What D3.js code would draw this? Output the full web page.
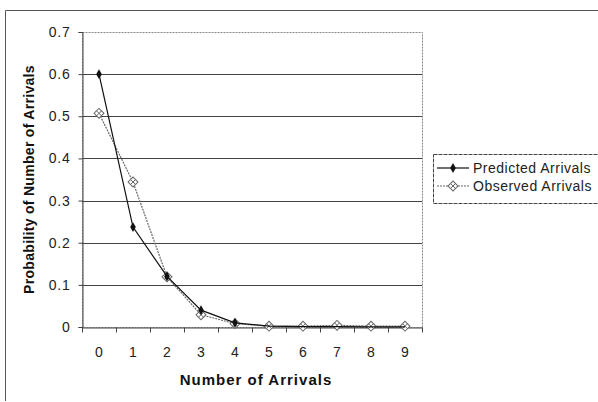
<!DOCTYPE html>
<html>
<head>
<meta charset="utf-8">
<script src="https://cdn.jsdelivr.net/npm/d3@7/dist/d3.min.js"></script>
<style>
  html, body { margin: 0; padding: 0; background: #fff; }
  svg { display: block; font-family: "Liberation Sans", Arial, sans-serif; }
</style>
</head>
<body>
<svg id="chart" width="598" height="402"></svg>
<script>
// Arrivals per interval and the two probability series
const arrivals = [0, 1, 2, 3, 4, 5, 6, 7, 8, 9];
const predicted = [0.6, 0.237, 0.12, 0.04, 0.01, 0.002, 0.001, 0.001, 0.0005, 0.0005];
const observed = [0.507, 0.344, 0.119, 0.029, 0.008, 0.002, 0.002, 0.004, 0.002, 0.002];
const yTicks = [0, 0.1, 0.2, 0.3, 0.4, 0.5, 0.6, 0.7];
const seriesNames = ["Predicted Arrivals", "Observed Arrivals"];

const svg = d3.select("#chart");
const plot = { left: 82, right: 422, top: 32, bottom: 327 };
const font = "Liberation Sans, Arial, sans-serif";

const x = d3.scaleBand().domain(arrivals).range([plot.left, plot.right]);
const y = d3.scaleLinear().domain([0, 0.7]).range([plot.bottom, plot.top]);

// outer frame (top and left edges)
svg.append("path")
  .attr("d", "M5.5,401 V10.5 H598")
  .attr("fill", "none").attr("stroke", "#555").attr("stroke-width", 1);

// plot area border
svg.append("rect")
  .attr("x", plot.left + 0.5).attr("y", plot.top + 0.5)
  .attr("width", plot.right - plot.left).attr("height", plot.bottom - plot.top)
  .attr("fill", "none").attr("stroke", "#888").attr("stroke-dasharray", "2,1");

// horizontal gridlines
svg.append("g").selectAll("line")
  .data(yTicks.filter(v => v > 0 && v < 0.7))
  .join("line")
  .attr("x1", plot.left).attr("x2", plot.right)
  .attr("y1", d => Math.round(y(d)) + 0.5).attr("y2", d => Math.round(y(d)) + 0.5)
  .attr("stroke", "#444").attr("stroke-width", 1);

// y axis
const yAxis = svg.append("g")
  .attr("transform", `translate(${plot.left + 0.5},0)`)
  .call(d3.axisLeft(y).tickValues(yTicks).tickSize(4).tickPadding(8)
    .tickFormat(d => d === 0 ? "0" : d3.format(".1f")(d)));
yAxis.select(".domain").attr("stroke", "#444");
yAxis.selectAll(".tick line").attr("stroke", "#444");
yAxis.selectAll("text").attr("font-size", 14).attr("fill", "#222")
  .attr("letter-spacing", 0.8).attr("font-family", font);

// x axis with ticks between categories
const xAxis = svg.append("g")
  .attr("transform", `translate(0,${plot.bottom + 0.5})`)
  .call(d3.axisBottom(x).tickSize(0).tickPadding(20));
xAxis.select(".domain").attr("stroke", "#444");
xAxis.selectAll("text").attr("font-size", 14).attr("fill", "#222")
  .attr("font-family", font);
xAxis.selectAll(".boundary")
  .data(d3.range(arrivals.length + 1))
  .join("line")
  .attr("class", "boundary")
  .attr("x1", i => Math.round(plot.left + i * x.bandwidth()) + 0.5)
  .attr("x2", i => Math.round(plot.left + i * x.bandwidth()) + 0.5)
  .attr("y1", 0).attr("y2", 5)
  .attr("stroke", "#444");

// axis titles
svg.append("text")
  .attr("x", 256).attr("y", 385)
  .attr("text-anchor", "middle").attr("font-size", 15).attr("font-weight", "bold")
  .attr("letter-spacing", 1).attr("fill", "#111").text("Number of Arrivals");
svg.append("text")
  .attr("transform", `translate(34,${(plot.top + plot.bottom) / 2}) rotate(-90)`)
  .attr("text-anchor", "middle").attr("font-size", 14).attr("font-weight", "bold")
  .attr("letter-spacing", 0.3).attr("fill", "#111").text("Probability of Number of Arrivals");

const cx = i => x(arrivals[i]) + x.bandwidth() / 2;
const line = d3.line().x((d, i) => cx(i)).y(d => y(d));

// observed series: dashed gray line with boxed-cross markers
svg.append("path").datum(observed)
  .attr("d", line).attr("fill", "none")
  .attr("stroke", "#666").attr("stroke-width", 1.2).attr("stroke-dasharray", "2,1");
function boxMarker(g, px, py) {
  g.append("rect").attr("x", px - 3.5).attr("y", py - 3.5).attr("width", 7).attr("height", 7)
    .attr("transform", `rotate(45,${px},${py})`)
    .attr("fill", "#fff").attr("stroke", "#666").attr("stroke-width", 1);
  g.append("path")
    .attr("d", `M${px - 2.5},${py - 2.5}L${px + 2.5},${py + 2.5}M${px + 2.5},${py - 2.5}L${px - 2.5},${py + 2.5}`)
    .attr("stroke", "#666").attr("stroke-width", 1);
}
const obsMarks = svg.append("g");
observed.forEach((v, i) => boxMarker(obsMarks, cx(i), y(v)));

// predicted series: solid black line with diamond markers
svg.append("path").datum(predicted)
  .attr("d", line).attr("fill", "none")
  .attr("stroke", "#111").attr("stroke-width", 1.2);
const diamond = d3.symbol().type(d3.symbolDiamond).size(28);
svg.append("g").selectAll("path")
  .data(predicted.slice(0, 5))
  .join("path")
  .attr("transform", (d, i) => `translate(${cx(i)},${y(d)})`)
  .attr("d", diamond).attr("fill", "#111");

// legend
const lg = svg.append("g");
lg.append("rect").attr("x", 433.5).attr("y", 154.5).attr("width", 170).attr("height", 49)
  .attr("fill", "#fff").attr("stroke", "#444").attr("stroke-dasharray", "4,1");
const rows = [168, 186];
lg.append("line").attr("x1", 437).attr("x2", 469).attr("y1", rows[0]).attr("y2", rows[0])
  .attr("stroke", "#111").attr("stroke-width", 1.2);
lg.append("path").attr("transform", `translate(453,${rows[0]})`).attr("d", diamond).attr("fill", "#111");
lg.append("line").attr("x1", 437).attr("x2", 469).attr("y1", rows[1]).attr("y2", rows[1])
  .attr("stroke", "#666").attr("stroke-width", 1.2).attr("stroke-dasharray", "2,1");
boxMarker(lg, 453, rows[1]);
lg.selectAll("text.lbl").data(seriesNames).join("text")
  .attr("class", "lbl")
  .attr("x", 473).attr("y", (d, i) => rows[i] + 5)
  .attr("font-size", 14).attr("letter-spacing", 0.5).attr("fill", "#222").text(d => d);
</script>
</body>
</html>
